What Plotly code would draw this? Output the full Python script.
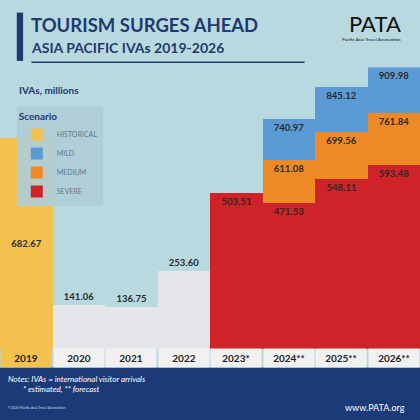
import plotly.graph_objects as go

# IVAs, millions
years = ["2019", "2020", "2021", "2022", "2023*", "2024**", "2025**", "2026**"]
historical = [682.67, 141.06, 136.75, 253.60, None, None, None, None]
mild = [None, None, None, None, 503.51, 740.97, 845.12, 909.98]
medium = [None, None, None, None, 503.51, 611.08, 699.56, 761.84]
severe = [None, None, None, None, 503.51, 471.53, 548.11, 593.48]

NAVY = "#1f3a6e"
hist_colors = ["#f2c14e"] + ["#e4e6ea"] * 7


def fmt(vals):
    return [f"<b>{v:.2f}</b>" if v is not None else "" for v in vals]


label_font = dict(family="Lato", size=9.5, color="#2a2a2a")

fig = go.Figure()
# 2019 label inside the bar so the legend box does not cover it
fig.add_trace(go.Bar(name="HISTORICAL", x=years, y=historical, marker_color=hist_colors,
                     text=fmt(historical),
                     textposition=["inside"] + ["outside"] * 7, insidetextanchor="middle",
                     textfont=label_font, cliponaxis=False))
for name, vals, col in [("MILD", mild, "#5b9bd5"), ("MEDIUM", medium, "#ee8a25"),
                        ("SEVERE", severe, "#cf2229")]:
    fig.add_trace(go.Bar(name=name, x=years, y=vals, marker_color=col,
                         text=fmt(vals), textposition="inside", insidetextanchor="end",
                         textfont=label_font))
fig.update_traces(marker_line_width=0, constraintext="none", textangle=0)


def note(text, x, y, size, color, xanchor="left", **kw):
    return dict(text=text, x=x, y=y, xref="paper", yref="paper", xanchor=xanchor,
                yanchor="middle", showarrow=False,
                font=dict(family="Lato", size=size, color=color), **kw)


annotations = [
    note("<b>TOURISM SURGES AHEAD</b>", 0.07, 0.94, 18.5, NAVY),
    note("<b>ASIA PACIFIC IVAs 2019-2026</b>", 0.07, 0.888, 14, NAVY),
    note("PATA", 0.96, 0.945, 22, "#111111", xanchor="right"),
    note("Pacific Asia Travel Association", 0.96, 0.905, 4.5, "#111111", xanchor="right"),
    note("<b>IVAs, millions</b>", 0.04, 0.785, 10, NAVY),
    note("<i>Notes: IVAs = international visitor arrivals<br>        * estimated, ** forecast</i>",
         0.015, 0.085, 8, "white", align="left"),
    note("©2024 Pacific Asia Travel Association", 0.015, 0.03, 3.5, "#cfd6e6"),
    note("www.PATA.org", 0.97, 0.03, 9, "white", xanchor="right"),
]
for i, yr in enumerate(years):
    annotations.append(dict(text=f"<b>{yr}</b>", x=i, y=0.148, xref="x", yref="paper",
                            yanchor="middle", showarrow=False, width=48, height=16,
                            bgcolor="#f2c14e" if i == 0 else "#f1f1f1",
                            font=dict(family="Lato", size=10, color="#222222")))

shapes = [
    dict(type="rect", xref="paper", yref="paper", x0=0.04, x1=0.055, y0=0.855, y1=0.97,
         fillcolor=NAVY, line_width=0),
    dict(type="line", xref="paper", yref="paper", x0=0.075, x1=0.725, y0=0.852, y1=0.852,
         line=dict(color=NAVY, width=1.5)),
    dict(type="rect", xref="paper", yref="paper", x0=0, x1=1, y0=0, y1=0.125,
         fillcolor="#1d3a78", line_width=0, layer="below"),
]

fig.update_layout(
    width=420, height=420,
    barmode="overlay", bargap=0,
    paper_bgcolor="#b9d9e1", plot_bgcolor="rgba(0,0,0,0)",
    margin=dict(l=0, r=0, t=0, b=0),
    font=dict(family="Lato"),
    xaxis=dict(visible=False, type="category", categoryorder="array", categoryarray=years,
               range=[-0.5, len(years) - 0.5], domain=[0, 1]),
    yaxis=dict(visible=False, domain=[0.168, 0.84], range=[0, 910]),
    showlegend=True,
    legend=dict(title=dict(text="<b>Scenario</b>", font=dict(size=10, color=NAVY)),
                x=0.04, y=0.745, xanchor="left", yanchor="top",
                bgcolor="rgba(175,205,214,0.92)", font=dict(size=7, color="#667788"),
                itemsizing="constant"),
    annotations=annotations,
    shapes=shapes,
)

fig.write_html("out.html", config={"displayModeBar": False},
               post_script="document.body.style.margin='0';document.body.style.overflow='hidden';")
